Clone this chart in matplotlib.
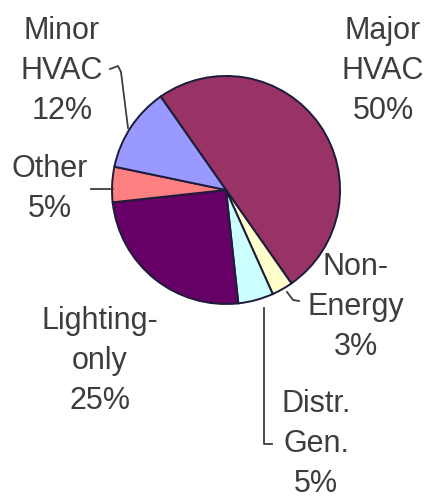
import matplotlib
matplotlib.use("Agg")
import matplotlib.pyplot as plt

# slice data, clockwise from the top-left boundary
labels = ["Major\nHVAC", "Non-\nEnergy", "Distr.\nGen.", "Lighting-\nonly", "Other", "Minor\nHVAC"]
shares = [50, 3, 5, 25, 5, 12]
colors = ["#993366", "#FFFFCC", "#CCFFFF", "#660066", "#FF8080", "#9999FF"]
explode = [0.07, 0.03, 0.03, 0.0, 0.0, 0.0]

W, H = 431, 499
fig = plt.figure(figsize=(W / 100, H / 100), dpi=100)
ax = fig.add_axes([0, 0, 1, 1])

def py(y):
    # pixel row (from top) -> data y
    return H - y

cx, cy, r = 226, 190, 114
ax.pie(shares, colors=colors, explode=explode, startangle=125, counterclock=False,
       center=(cx, py(cy)), radius=r,
       wedgeprops=dict(edgecolor="#1c1c3a", linewidth=1.4))
ax.set_xlim(0, W)
ax.set_ylim(0, H)
ax.set_aspect("auto")
ax.axis("off")

txt = dict(fontsize=22, color="#3d3d3d", family="Liberation Sans",
           ha="center", va="center", linespacing=1.45)
# label centres in pixels
lab_pos = [(383, 71), (356, 307), (316, 444), (100, 361), (50, 189), (62, 71)]
for lab, v, (x, y) in zip(labels, shares, lab_pos):
    ax.text(x, py(y), f"{lab}\n{v}%", **txt)

# leader lines
lc = dict(color="#3d3d3d", lw=1.3)
ax.plot([110, 118, 121, 128], [py(69), py(66), py(72), py(128)], **lc)
ax.plot([91, 113], [py(189), py(189)], **lc)
ax.plot([287, 293, 299], [py(292), py(300), py(301)], **lc)
ax.plot([264, 264, 272], [py(308), py(444), py(444)], **lc)

fig.savefig("out.png", dpi=100, facecolor="white")
